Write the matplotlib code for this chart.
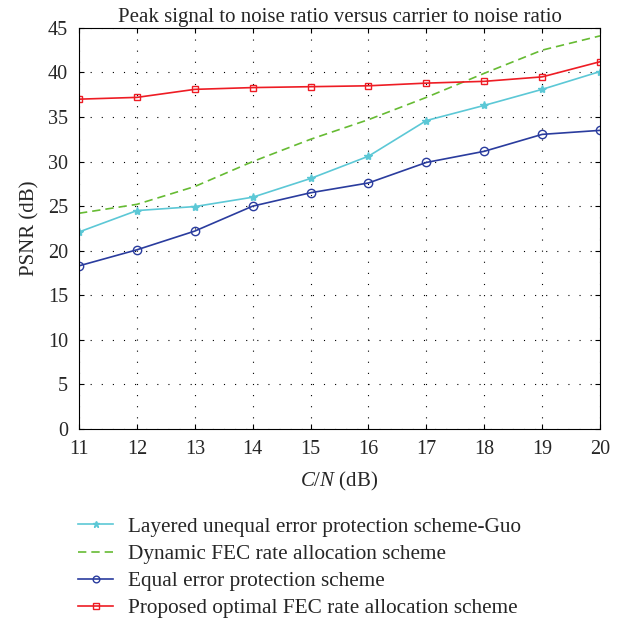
import numpy as np
import matplotlib.pyplot as plt

# Datos
cn = [11, 12, 13, 14, 15, 16, 17, 18, 19, 20]
psnr_guo = [22.1, 24.5, 24.95, 26.0, 28.1, 30.6, 34.6, 36.3, 38.1, 40.1]
psnr_dinamico = [24.2, 25.2, 27.2, 30.0, 32.5, 34.7, 37.2, 39.9, 42.5, 44.1]
psnr_igual = [18.3, 20.1, 22.2, 25.0, 26.5, 27.6, 29.9, 31.15, 33.05, 33.5]
psnr_propuesto = [37.0, 37.2, 38.1, 38.3, 38.4, 38.5, 38.8, 39.0, 39.5, 41.2]

etiquetas = [
    "Layered unequal error protection scheme-Guo",
    "Dynamic FEC rate allocation scheme",
    "Equal error protection scheme",
    "Proposed optimal FEC rate allocation scheme",
]

texto = '#262626'
plt.rcParams['font.family'] = ['Liberation Serif', 'DejaVu Serif']
plt.rcParams['font.size'] = 14.5
plt.rcParams['text.color'] = texto
plt.rcParams['axes.labelcolor'] = texto
plt.rcParams['xtick.labelcolor'] = texto
plt.rcParams['ytick.labelcolor'] = texto
plt.rcParams['mathtext.fontset'] = 'custom'
plt.rcParams['mathtext.it'] = 'Liberation Serif:italic'
plt.rcParams['mathtext.rm'] = 'Liberation Serif'

fig = plt.figure(figsize=(6.27, 6.19), dpi=100)
ax = fig.add_axes([0.126, 0.307, 0.831, 0.648])

ax.plot(cn, psnr_guo, color='#5cc8d6', marker='*', markersize=6, lw=1.2, label=etiquetas[0])
ax.plot(cn, psnr_dinamico, color='#66bb33', linestyle='--', lw=1.2, dashes=(5, 3), label=etiquetas[1])
ax.plot(cn, psnr_igual, color='#2a3c9e', marker='o', markersize=6, markerfacecolor='none', lw=1.2, label=etiquetas[2])
ax.plot(cn, psnr_propuesto, color='#ee1c24', marker='s', markersize=5, markerfacecolor='none', lw=1.2, label=etiquetas[3])

ax.set_xlim(11, 20)
ax.set_ylim(0, 45)
ax.set_xticks(range(11, 21))
ax.set_yticks(range(0, 46, 5))
ax.tick_params(direction='in', top=True, right=True, labelsize=14.5, pad=8)
ax.grid(True, color='black', linestyle=(0, (1, 9)), linewidth=0.8)
for sp in ax.spines.values():
    sp.set_linewidth(0.8)

ax.set_title("Peak signal to noise ratio versus carrier to noise ratio", fontsize=15, pad=4)
ax.set_ylabel("PSNR (dB)", fontsize=15, labelpad=6)
ax.set_xlabel("$\\mathit{C/N}$ (dB)", fontsize=15, labelpad=8)

ax.legend(loc='upper left', bbox_to_anchor=(78 / 627, 1 - 517 / 619), bbox_transform=fig.transFigure,
          frameon=False, fontsize=15.3, handlelength=1.65, handletextpad=0.72,
          labelspacing=0.34, borderaxespad=0, borderpad=0, markerscale=0.8)

fig.savefig("out.png", dpi=100)
